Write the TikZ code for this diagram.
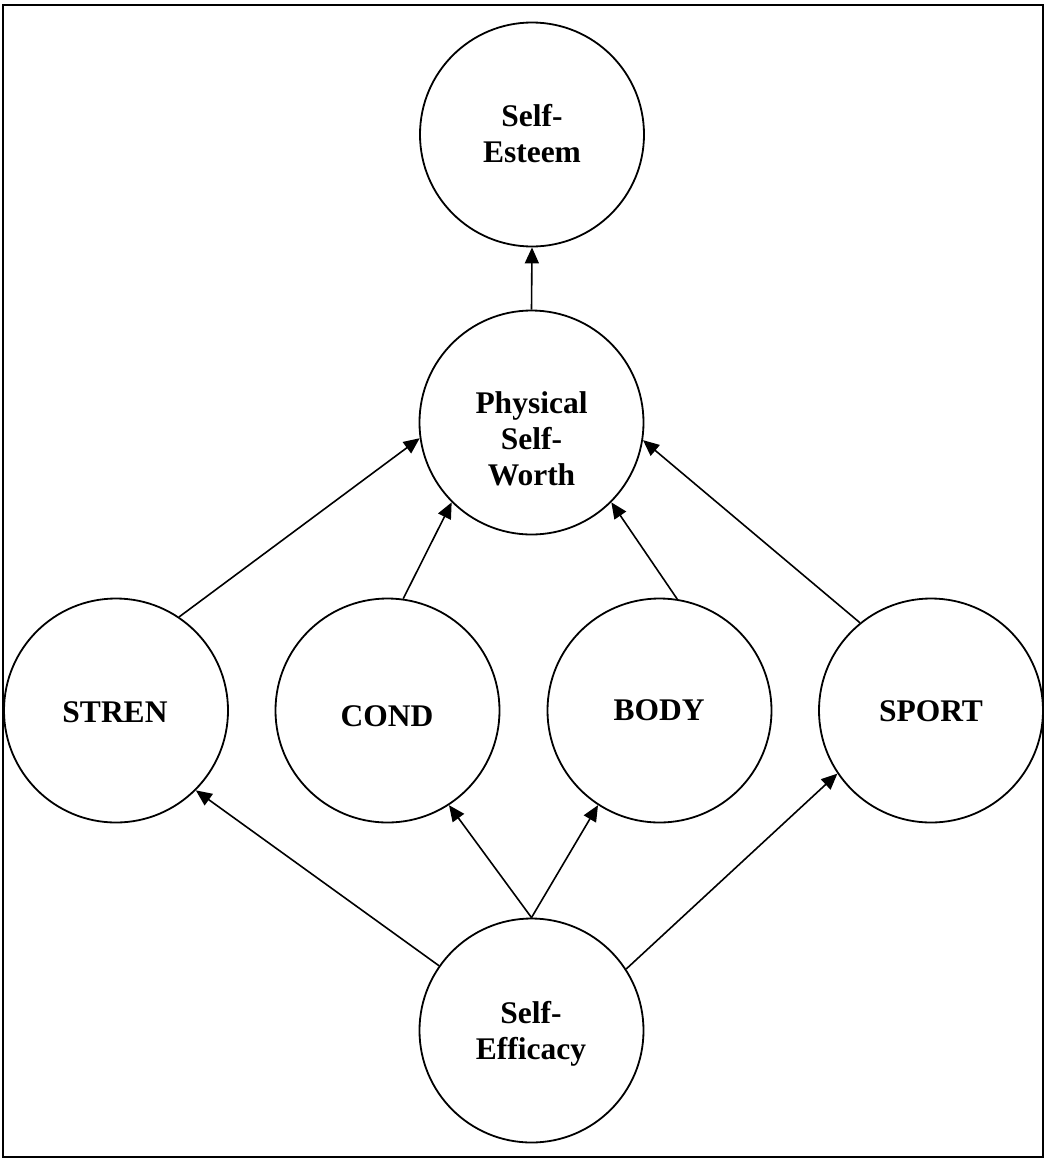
\documentclass[tikz,border=0pt]{standalone}
\usepackage{fontspec}
\setmainfont{Liberation Serif}
\usetikzlibrary{arrows.meta}
\begin{document}
\begin{tikzpicture}[x=1pt,y=-1pt,
  bubble/.style={circle,draw=black,line width=1.8pt,minimum size=224pt,inner sep=0pt,fill=white},
  caption/.style={align=center,inner sep=0pt,font=\bfseries\fontsize{31.5}{36}\selectfont},
  link/.style={line width=1.6pt,-{Triangle[length=16pt,width=14pt]}},
  frame/.style={draw=black,line width=2.6pt}]
\useasboundingbox (0,0) rectangle (1045,1160);
\draw[frame] (3,5) rectangle (1043,1157);

% circles
\node[bubble] (se)    at (532,134.5)   {};
\node[bubble] (psw)   at (531.5,422.5) {};
\node[bubble] (stren) at (116,710.5)   {};
\node[bubble] (cond)  at (387.5,710.5) {};
\node[bubble] (body)  at (659.5,710.5) {};
\node[bubble] (sport) at (931,710.5)   {};
\node[bubble] (eff)   at (531.5,1030.5){};

% labels
\node[caption] (seText)    at (532,134)    {Self-\\Esteem};
\node[caption] (pswText)   at (531.5,439)  {Physical\\Self-\\Worth};
\node[caption] (strenText) at (115,712)    {STREN};
\node[caption] (condText)  at (387,716)    {COND};
\node[caption] (bodyText)  at (659,710)    {BODY};
\node[caption] (sportText) at (931,711)    {SPORT};
\node[caption] (effText)   at (531,1034)   {Self-\\Efficacy};

% paths
\draw[link] (psw.90)    -- (se.270);
\draw[link] (stren.56.6) -- (psw.188.3);
\draw[link] (cond.82.1)  -- (psw.225.4);
\draw[link] (body.81.6)  -- (psw.315.4);
\draw[link] (sport.129.1) -- (psw.351.7);
\draw[link] (eff.145.7) -- (stren.315.2);
\draw[link] (eff.90)    -- (cond.303.9);
\draw[link] (eff.90)    -- (body.237.3);
\draw[link] (eff.33.6)  -- (sport.214.4);
\end{tikzpicture}
\end{document}
